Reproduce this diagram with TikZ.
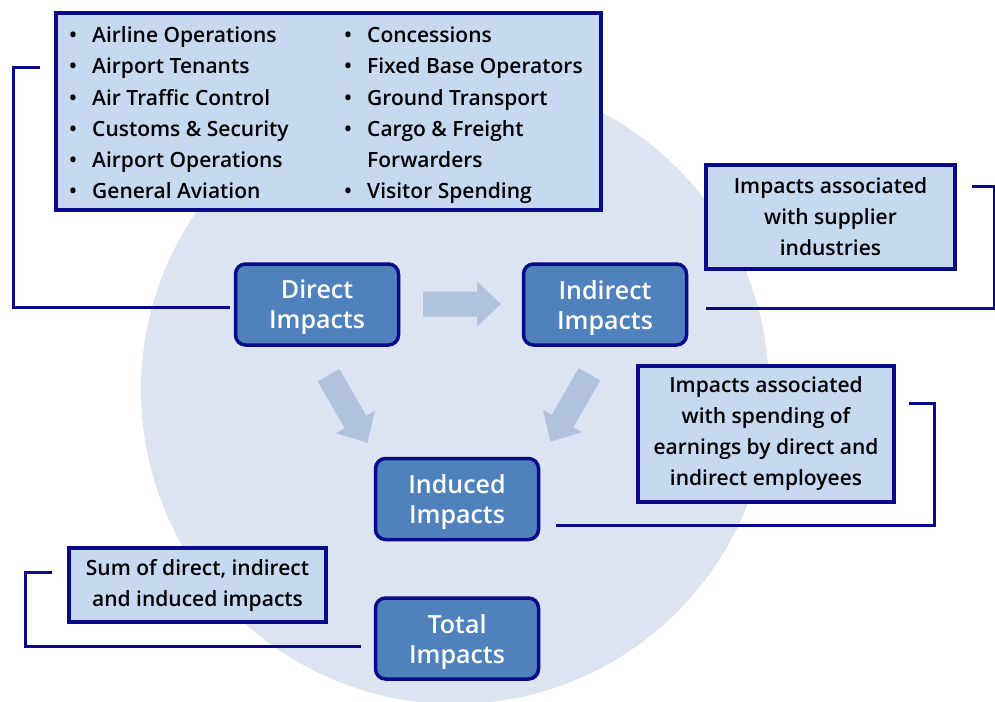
\documentclass[tikz,border=0pt]{standalone}
\usepackage{fontspec}
\usetikzlibrary{calc}
\setmainfont{Open Sans}
\newfontfamily\semi{Open Sans Semibold}
\definecolor{navyline}{RGB}{10,10,140}
\definecolor{notefill}{RGB}{198,217,240}
\definecolor{boxfill}{RGB}{79,129,189}
\definecolor{ringfill}{RGB}{220,228,242}
\definecolor{arrowfill}{RGB}{176,194,222}
\begin{document}
\begin{tikzpicture}[x=1pt, y=-1pt,
  impact/.style={draw=navyline, line width=3.5pt, fill=boxfill, rounded corners=10pt,
    minimum width=163pt, minimum height=81pt, align=center, text=white,
    text depth=-5pt, font=\semi\fontsize{25}{30}\selectfont},
  note/.style={draw=navyline, line width=4pt, fill=notefill, align=center,
    font=\semi\fontsize{21}{31}\selectfont},
  item/.style={anchor=base west, inner sep=0pt, font=\semi\fontsize{21}{31}\selectfont},
  dot/.style={anchor=base, inner sep=0pt, font=\semi\fontsize{21}{31}\selectfont},
  link/.style={draw=navyline, line width=3pt}]
  \useasboundingbox (0,0) rectangle (995,701);
  \clip (0,0) rectangle (995,701);
  \fill[ringfill] (455,390) circle (314);

  % list of direct activities
  \node[note, minimum width=545pt, minimum height=197pt] (list) at (328.5,111.5) {};
  \foreach \t [count=\i] in {Airline Operations, Airport Tenants, Air Traffic Control,
      Customs \& Security, Airport Operations, General Aviation} {
    \node[dot] (ldot\i) at (73,12+31*\i) {\textbullet};
    \node[item] (litem\i) at (92,12+31*\i) {\t};
  }
  \foreach \t [count=\i] in {Concessions, Fixed Base Operators, Ground Transport,
      Cargo \& Freight, Forwarders, Visitor Spending} {
    \ifnum\i=5 \else \node[dot] (rdot\i) at (348,12+31*\i) {\textbullet}; \fi
    \node[item] (ritem\i) at (367,12+31*\i) {\t};
  }

  % impact boxes
  \node[impact] (direct) at (317,304.5) {Direct\\Impacts};
  \node[impact] (indirect) at (605,304.5) {Indirect\\Impacts};
  \node[impact] (induced) at (457,499) {Induced\\Impacts};
  \node[impact] (total) at (457,638.5) {Total\\Impacts};

  % notes
  \node[note, minimum width=249pt, minimum height=104pt] (supplier) at (830.5,217)
    {Impacts associated\\with supplier\\industries};
  \node[note, minimum width=256pt, minimum height=136pt] (spending) at (766,434)
    {Impacts associated\\with spending of\\earnings by direct and\\indirect employees};
  \node[note, minimum width=257pt, minimum height=74pt] (sum) at (197.5,585)
    {Sum of direct, indirect\\and induced impacts};

  % block arrows
  \foreach \p/\a in {{(462,304)}/0, {(348,409)}/-60, {(570,408)}/-120}
    \fill[arrowfill, shift={\p}, rotate=\a] (-39,-12.5) -- (15,-12.5) -- (15,-22.5)
      -- (39,0) -- (15,22.5) -- (15,12.5) -- (-39,12.5) -- cycle;

  % brackets
  \coordinate (dend) at (40,67);
  \coordinate (iend) at (972,186);
  \coordinate (nend) at (909,403);
  \coordinate (tend) at (52,572);
  \draw[link] (dend) -| (13,307) -- ($(direct.west |- 0,307)+(-4,0)$);
  \draw[link] (iend) -| (994,308) -- ($(indirect.east |- 0,308)+(18,0)$);
  \draw[link] (nend) -| (934,525) -- ($(induced.east |- 0,525)+(16,0)$);
  \draw[link] (tend) -| (25,646) -- ($(total.west |- 0,646)+(-13,0)$);
\end{tikzpicture}
\end{document}
